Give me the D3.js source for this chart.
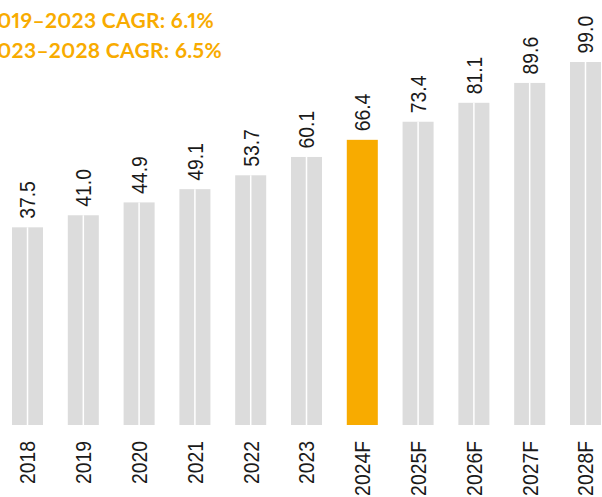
<!DOCTYPE html>
<html>
<head>
<meta charset="utf-8">
<script src="https://cdn.jsdelivr.net/npm/d3@7"></script>
<style>
	body { margin: 0; background: #fff; }
	svg { display: block; }
</style>
</head>
<body>
<div id="chart"></div>
<script>

const years = ["2018", "2019", "2020", "2021", "2022", "2023", "2024F", "2025F", "2026F", "2027F", "2028F"];
const values = [37.5, 41.0, 44.9, 49.1, 53.7, 60.1, 66.4, 73.4, 81.1, 89.6, 99.0];
const highlight = "2024F";
const cagrLines = ["2019–2023 CAGR: 6.1%", "2023–2028 CAGR: 6.5%"];

const width = 602, height = 497;
const orange = "#f8ab00", grey = "#dcdcdc";
const labelFont = "'Liberation Sans', Arial, sans-serif";

const svg = d3.select("#chart")
	.append("svg")
	.attr("width", width)
	.attr("height", height);

const x = d3.scaleBand()
	.domain(years)
	.range([12, 601])
	.paddingInner(0.444)
	.paddingOuter(0);

// echelle racine, la base du graphe est tronquee
const y = d3.scaleSqrt()
	.domain([2.4, 99])
	.range([425, 62]);

const data = years.map((d, i) => ({ year: d, value: values[i] }));

// barres
svg.append("g")
	.selectAll("rect")
	.data(data)
	.enter()
	.append("rect")
	.attr("x", d => x(d.year))
	.attr("y", d => y(d.value))
	.attr("width", x.bandwidth())
	.attr("height", d => y.range()[0] - y(d.value))
	.style("fill", d => d.year === highlight ? orange : grey);

// petit trait blanc au milieu des barres grises
svg.append("g")
	.selectAll("line")
	.data(data.filter(d => d.year !== highlight))
	.enter()
	.append("line")
	.attr("x1", d => x(d.year) + x.bandwidth() / 2)
	.attr("x2", d => x(d.year) + x.bandwidth() / 2)
	.attr("y1", d => y(d.value))
	.attr("y2", y.range()[0])
	.style("stroke", "#fff")
	.style("stroke-width", 1.5);

// valeurs au-dessus des barres
svg.append("g")
	.selectAll("text")
	.data(data)
	.enter()
	.append("text")
	.attr("transform", d => "translate(" + (x(d.year) + x.bandwidth() / 2) + "," + (y(d.value) - 8.5) + ") rotate(-90) scale(0.88,1)")
	.attr("dy", "0.36em")
	.style("font-family", labelFont)
	.style("font-size", "22px")
	.style("fill", "#1a1a1a")
	.text(d => d.value.toFixed(1));

// axe des annees
const axis = svg.append("g")
	.attr("transform", "translate(0,441)")
	.call(d3.axisBottom(x).tickSize(0).tickPadding(0));
axis.select(".domain").remove();
axis.selectAll("text")
	.attr("transform", "rotate(-90) scale(0.88,1)")
	.attr("x", 0)
	.attr("y", 0)
	.attr("dy", "0.36em")
	.style("text-anchor", "end")
	.style("font-family", labelFont)
	.style("font-size", "22px")
	.style("fill", "#1a1a1a");

// TCAC
svg.append("g")
	.selectAll("text")
	.data(cagrLines)
	.enter()
	.append("text")
	.attr("x", -15)
	.attr("y", (d, i) => 28.3 + i * 30)
	.style("font-family", "Lato, sans-serif")
	.style("font-weight", "bold")
	.style("font-size", "21px")
	.style("letter-spacing", "0.3px")
	.style("font-variant-numeric", "proportional-nums")
	.style("fill", orange)
	.text(d => d);

</script>
</body>
</html>
